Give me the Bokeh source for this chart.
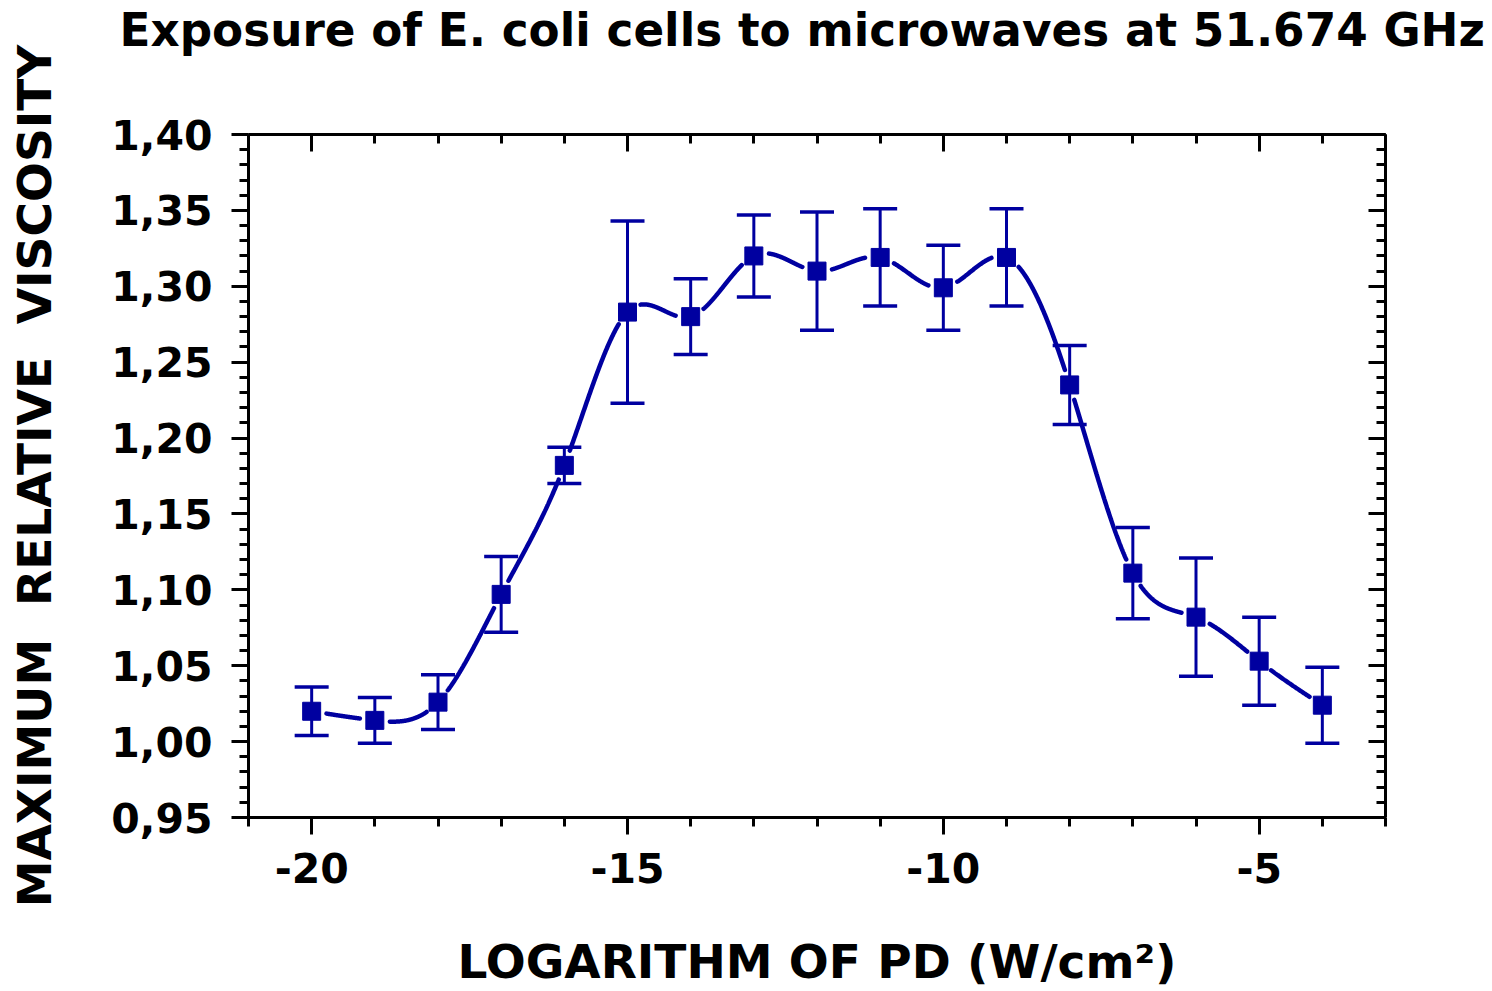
import numpy as np
from bokeh.plotting import figure
from bokeh.models import (ColumnDataSource, Range1d, LinearAxis, FixedTicker,
                          CustomJSTickFormatter, Whisker, TeeHead)
from bokeh.embed import file_html
from bokeh.resources import INLINE

# --- data -------------------------------------------------------------------
log_pd = [-20, -19, -18, -17, -16, -15, -14, -13, -12, -11, -10, -9, -8, -7, -6, -5, -4]
viscosity = [1.020, 1.014, 1.026, 1.097, 1.182, 1.283, 1.280, 1.320, 1.310,
             1.319, 1.299, 1.319, 1.235, 1.111, 1.082, 1.053, 1.024]
viscosity_err = [0.016, 0.015, 0.018, 0.025, 0.012, 0.060, 0.025, 0.027, 0.039,
                 0.032, 0.028, 0.032, 0.026, 0.030, 0.039, 0.029, 0.025]

x_major_ticks = [-20, -15, -10, -5]
y_major_ticks = [0.95, 1.00, 1.05, 1.10, 1.15, 1.20, 1.25, 1.30, 1.35, 1.40]

TITLE = "Exposure of E. coli cells to microwaves at 51.674 GHz"
X_LABEL = "LOGARITHM OF PD (W/cm\u00b2)"
Y_LABEL = "MAXIMUM \u00a0RELATIVE \u00a0VISCOSITY"

# --- styling / geometry -----------------------------------------------------
NAVY = "#0000A0"
FONT = "DejaVu Sans"
W, H = 1492, 991
BORDER_L, BORDER_R, BORDER_T, BORDER_B = 248, 107, 133, 173
X_MIN, X_MAX = -21, -3
Y_MIN, Y_MAX = 0.95, 1.40
FRAME_W = W - BORDER_L - BORDER_R
FRAME_H = H - BORDER_T - BORDER_B
GAP_PX = 15  # gap left in the curve around each symbol

x_minor_ticks = list(range(X_MIN, X_MAX + 1))
y_minor_ticks = [round(Y_MIN + 0.01 * i, 2) for i in range(46)]


def natural_spline(x, y, xs):
    x = np.asarray(x, float)
    y = np.asarray(y, float)
    n = len(x)
    h = np.diff(x)
    A = np.zeros((n - 2, n - 2))
    rhs = np.zeros(n - 2)
    for i in range(1, n - 1):
        r = i - 1
        A[r, r] = 2 * (h[i - 1] + h[i])
        if r > 0:
            A[r, r - 1] = h[i - 1]
        if r < n - 3:
            A[r, r + 1] = h[i]
        rhs[r] = 6 * ((y[i + 1] - y[i]) / h[i] - (y[i] - y[i - 1]) / h[i - 1])
    M = np.zeros(n)
    M[1:-1] = np.linalg.solve(A, rhs)
    idx = np.clip(np.searchsorted(x, xs) - 1, 0, n - 2)
    x0, x1 = x[idx], x[idx + 1]
    hh = x1 - x0
    a = (x1 - xs) / hh
    b = (xs - x0) / hh
    return (a * y[idx] + b * y[idx + 1]
            + ((a ** 3 - a) * M[idx] + (b ** 3 - b) * M[idx + 1]) * hh ** 2 / 6)


# smooth connecting curve with gaps around symbols
xs = np.linspace(log_pd[0], log_pd[-1], 3000)
ys = natural_spline(log_pd, viscosity, xs)
sx = FRAME_W / (X_MAX - X_MIN)
sy = FRAME_H / (Y_MAX - Y_MIN)
dist = np.min(np.hypot((xs[:, None] - np.array(log_pd)[None, :]) * sx,
                       (ys[:, None] - np.array(viscosity)[None, :]) * sy), axis=1)
ys_gapped = np.where(dist < GAP_PX, np.nan, ys)

src = ColumnDataSource(dict(
    x=log_pd, y=viscosity,
    upper=[v + e for v, e in zip(viscosity, viscosity_err)],
    lower=[v - e for v, e in zip(viscosity, viscosity_err)],
))

p = figure(width=W, height=H, output_backend="svg", toolbar_location=None,
           x_range=Range1d(X_MIN, X_MAX), y_range=Range1d(Y_MIN, Y_MAX),
           min_border_left=BORDER_L, min_border_right=BORDER_R,
           min_border_top=BORDER_T, min_border_bottom=BORDER_B,
           background_fill_color="white", border_fill_color="white")
p.grid.visible = False
p.outline_line_color = None

p.title.text = TITLE
p.title.text_font = FONT
p.title.text_font_size = "45.3px"
p.title.text_font_style = "bold"
p.title.text_color = "black"
p.title.align = "left"
p.title.offset = -129
p.title.standoff = 2

x_ticker = FixedTicker(ticks=x_major_ticks, minor_ticks=x_minor_ticks)
y_ticker = FixedTicker(ticks=y_major_ticks, minor_ticks=y_minor_ticks)

xa = p.xaxis[0]
xa.ticker = x_ticker
xa.formatter = CustomJSTickFormatter(code="return tick.toFixed(0)")
ya = p.yaxis[0]
ya.ticker = y_ticker
ya.formatter = CustomJSTickFormatter(code="return tick.toFixed(2).replace('.', ',')")

for ax, label, standoff, lab_standoff in ((xa, X_LABEL, 48, 18), (ya, Y_LABEL, 46, 19)):
    ax.axis_label = label
    ax.axis_label_text_font = FONT
    ax.axis_label_text_font_size = "47px"
    ax.axis_label_text_font_style = "bold"
    ax.axis_label_text_color = "black"
    ax.axis_label_standoff = standoff
    ax.major_label_text_font = FONT
    ax.major_label_text_font_size = "41px"
    ax.major_label_text_font_style = "bold"
    ax.major_label_text_color = "black"
    ax.major_label_standoff = lab_standoff
    ax.axis_line_width = 3
    ax.axis_line_color = "black"
    ax.major_tick_line_width = 3
    ax.minor_tick_line_width = 3
    ax.major_tick_in = 0
    ax.major_tick_out = 17
    ax.minor_tick_in = 0
    ax.minor_tick_out = 9

# unlabeled mirror axes on top and right, ticks pointing inward
for side, ticker in (("above", x_ticker), ("right", y_ticker)):
    ax = LinearAxis(ticker=ticker, major_label_text_color=None,
                    major_label_text_font_size="1px", major_label_standoff=0,
                    axis_line_width=3, major_tick_line_width=3, minor_tick_line_width=3,
                    major_tick_in=17, major_tick_out=0, minor_tick_in=9, minor_tick_out=0)
    p.add_layout(ax, side)

# blank band that keeps the title clear of the frame
spacer = LinearAxis(ticker=x_ticker, axis_line_color=None, major_tick_line_color=None,
                    minor_tick_line_color=None, major_label_text_color=None,
                    major_label_text_font_size="1px", major_label_standoff=0,
                    major_tick_in=0, major_tick_out=77, minor_tick_in=0, minor_tick_out=0)
p.add_layout(spacer, "above")

p.line(xs, ys_gapped, line_color=NAVY, line_width=4.5, line_cap="round")

whisk = Whisker(base="x", upper="upper", lower="lower", source=src,
                line_color=NAVY, line_width=3,
                upper_head=TeeHead(size=34, line_color=NAVY, line_width=3.5),
                lower_head=TeeHead(size=34, line_color=NAVY, line_width=3.5))
p.add_layout(whisk)

p.scatter("x", "y", source=src, marker="square", size=18,
          fill_color=NAVY, line_color=NAVY)

open("out.html", "w").write(file_html(p, INLINE))
